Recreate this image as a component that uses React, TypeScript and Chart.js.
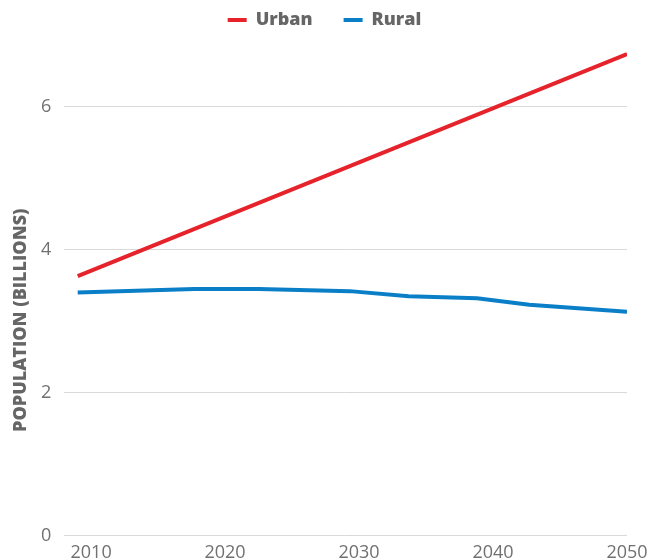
import React, { useEffect, useRef } from "react";
import { Chart, registerables } from "chart.js";

Chart.register(...registerables);

const urbanYears = [2009, 2050];
const urbanValues = [3.63, 6.74];

const ruralYears = [2009, 2017.7, 2022.5, 2029.3, 2033.7, 2038.8, 2042.7, 2050];
const ruralValues = [3.4, 3.45, 3.45, 3.42, 3.35, 3.32, 3.23, 3.13];

const xTickYears = [2010, 2020, 2030, 2040, 2050];
const yTickValues = [0, 2, 4, 6];

const Y_TITLE = "POPULATION (BILLIONS)";

const RED = "#E6222B";
const BLUE = "#0A7FC8";

const legendShift = {
  id: "legendShift",
  afterUpdate(chart: any) {
    const lg = chart.legend;
    if (lg && lg.lineWidths && lg.lineWidths.length) {
      lg.lineWidths[0] = lg.lineWidths[0] + 6;
    }
  },
};

const yTitlePlugin = {
  id: "yTitlePlugin",
  afterDraw(chart: any) {
    const { ctx, chartArea } = chart;
    const cx = 21;
    const cy = (chartArea.top + chartArea.bottom) / 2 + 33;
    ctx.save();
    ctx.translate(cx, cy);
    ctx.rotate(-Math.PI / 2);
    ctx.textAlign = "center";
    ctx.textBaseline = "middle";
    ctx.fillStyle = "#666666";
    ctx.font = "800 18px 'Open Sans'";
    ctx.fillText(Y_TITLE, 0, 0);
    ctx.restore();
  },
};

export default function App() {
  const canvasRef = useRef<HTMLCanvasElement | null>(null);

  useEffect(() => {
    if (!canvasRef.current) return;
    const chart = new Chart(canvasRef.current, {
      type: "line",
      plugins: [legendShift, yTitlePlugin],
      data: {
        datasets: [
          {
            label: "Urban",
            data: urbanYears.map((x, i) => ({ x, y: urbanValues[i] })),
            borderColor: RED,
            backgroundColor: RED,
            borderWidth: 4,
            pointRadius: 0,
            tension: 0,
          },
          {
            label: "Rural",
            data: ruralYears.map((x, i) => ({ x, y: ruralValues[i] })),
            borderColor: BLUE,
            backgroundColor: BLUE,
            borderWidth: 4,
            pointRadius: 0,
            tension: 0,
          },
        ],
      },
      options: {
        animation: false,
        responsive: true,
        maintainAspectRatio: false,
        layout: { padding: { left: 28, right: 35, top: -20, bottom: 0 } },
        plugins: {
          tooltip: { enabled: false },
          legend: {
            display: true,
            position: "top",
            labels: {
              boxWidth: 19,
              boxHeight: 4,
              padding: 31,
              color: "#666666",
              font: { family: "Open Sans", size: 18, weight: "800" },
              generateLabels: (c: any) =>
                Chart.defaults.plugins.legend.labels
                  .generateLabels(c)
                  .map((l: any) => ({ ...l, lineWidth: 0 })),
            },
          },
        },
        scales: {
          x: {
            type: "linear",
            min: 2008,
            max: 2050,
            afterBuildTicks: (axis: any) => {
              axis.ticks = xTickYears.map((v) => ({ value: v }));
            },
            grid: { display: false, drawTicks: false },
            border: { display: false },
            ticks: {
              padding: 7,
              maxRotation: 0,
              color: "#707070",
              font: { family: "Open Sans", size: 18 },
              callback: (v: any) => String(v),
            },
          },
          y: {
            min: 0,
            max: 6.95,
            afterBuildTicks: (axis: any) => {
              axis.ticks = yTickValues.map((v) => ({ value: v }));
            },
            grid: { color: "#d9d9d9", lineWidth: 1, drawTicks: false },
            border: { display: false },
            ticks: {
              padding: 13,
              color: "#707070",
              font: { family: "Open Sans", size: 18 },
            },
          },
        },
      },
    });
    return () => chart.destroy();
  }, []);

  return (
    <div
      style={{
        position: "absolute",
        left: 0,
        top: 0,
        width: 662,
        height: 560,
        overflow: "hidden",
      }}
    >
      <div style={{ position: "relative", width: 662, height: 571 }}>
        <canvas ref={canvasRef} />
      </div>
    </div>
  );
}
